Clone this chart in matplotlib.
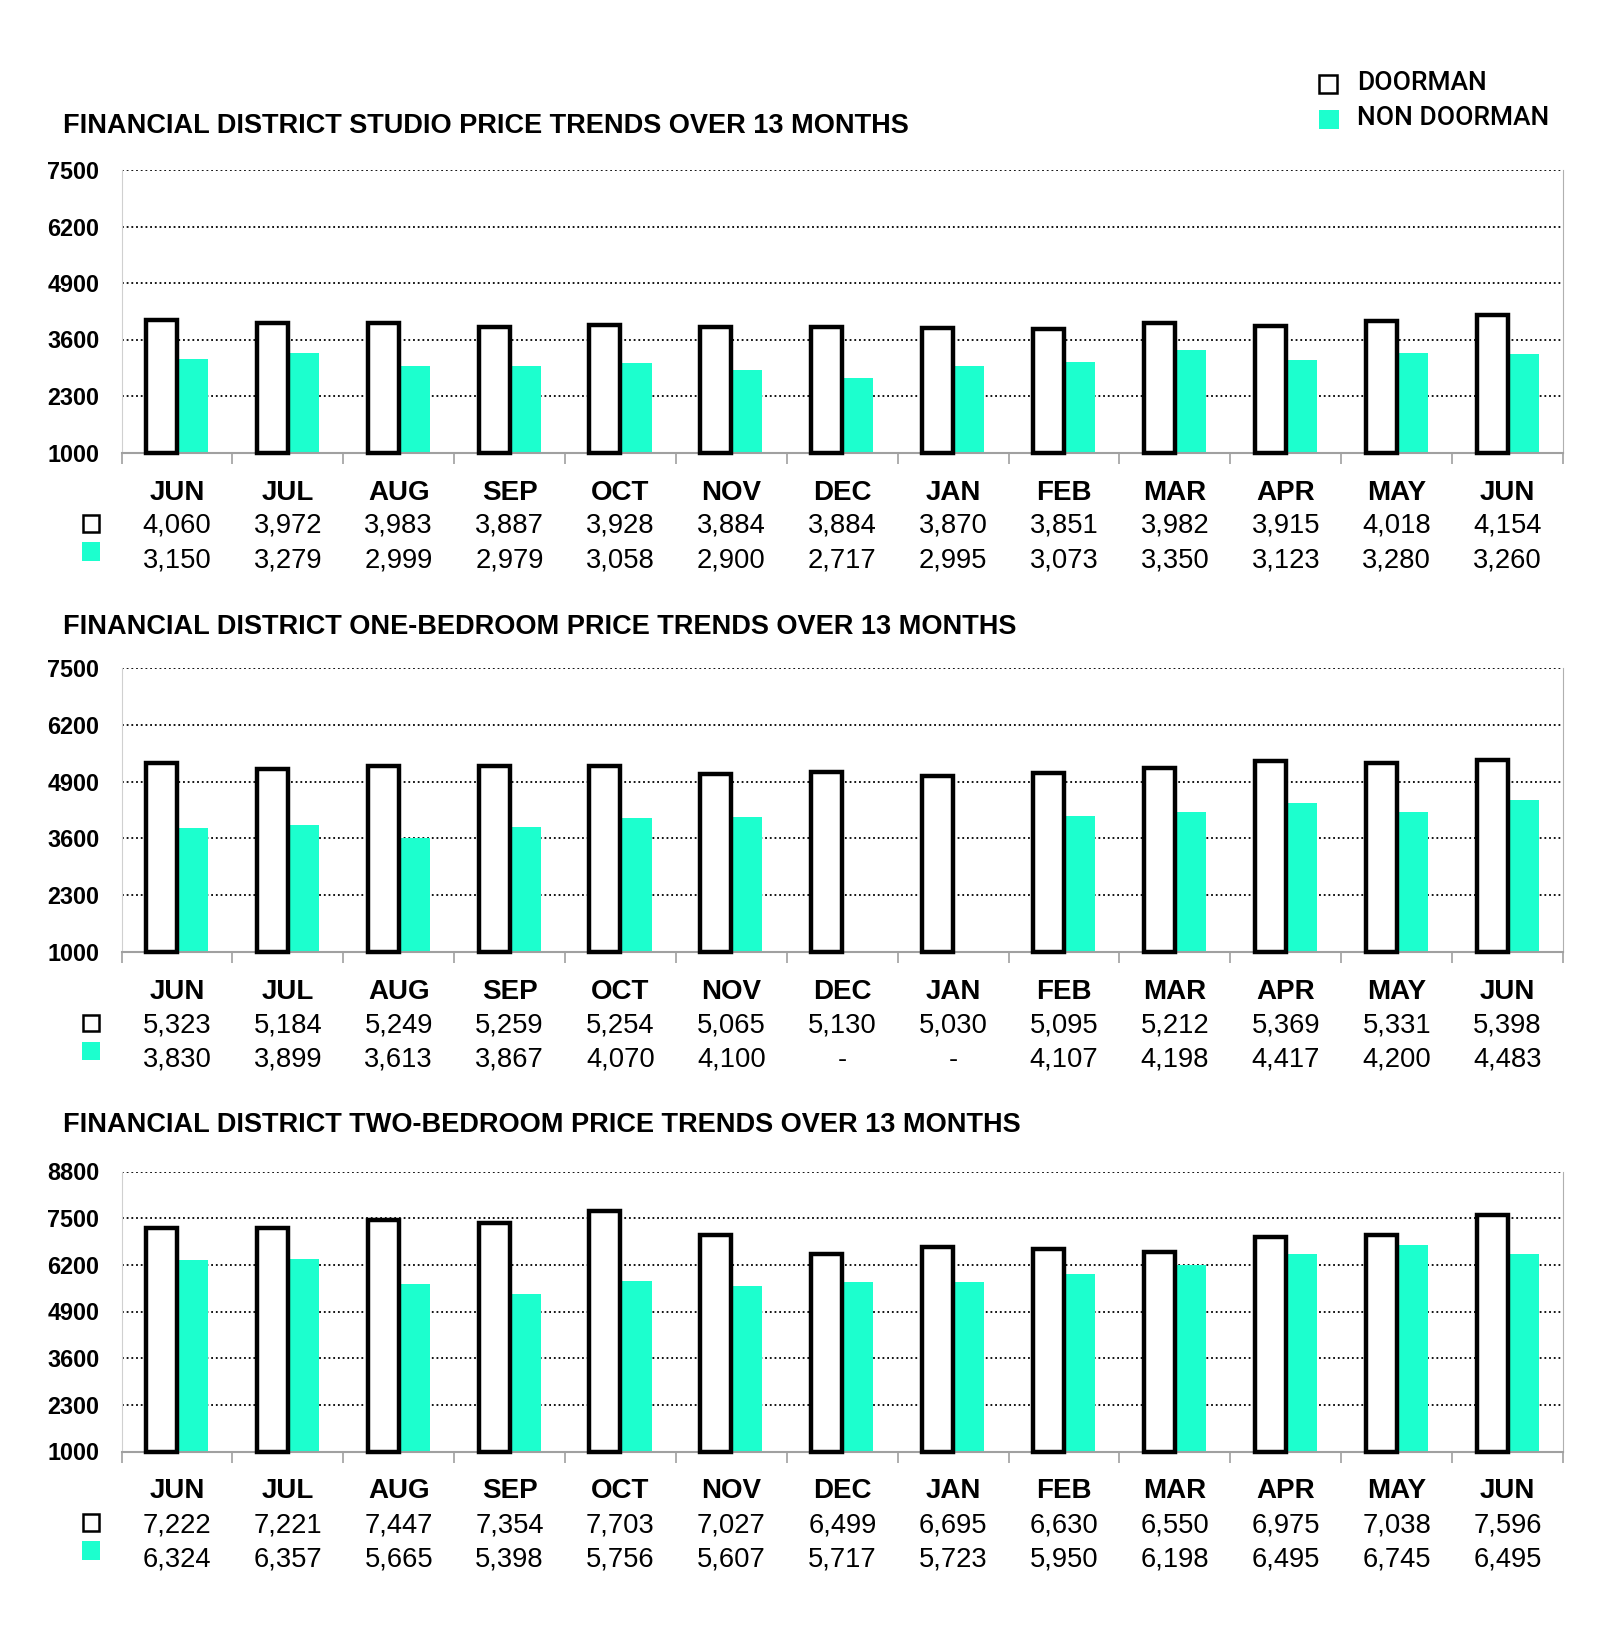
"""Financial District rental price trends: doorman vs non doorman, 13 months."""

import matplotlib
matplotlib.use("Agg")
import matplotlib.pyplot as plt
import matplotlib.transforms as mtransforms
from matplotlib.patches import Rectangle

W, H = 1600, 1645
DPI = 100

TEAL = "#1CFFCE"
GRID_KW = dict(color="black", linestyle=(0, (1, 1.6)), linewidth=1.3)

months = ["JUN", "JUL", "AUG", "SEP", "OCT", "NOV", "DEC",
          "JAN", "FEB", "MAR", "APR", "MAY", "JUN"]

studio_doorman = [4060, 3972, 3983, 3887, 3928, 3884, 3884, 3870, 3851, 3982, 3915, 4018, 4154]
studio_non = [3150, 3279, 2999, 2979, 3058, 2900, 2717, 2995, 3073, 3350, 3123, 3280, 3260]

onebed_doorman = [5323, 5184, 5249, 5259, 5254, 5065, 5130, 5030, 5095, 5212, 5369, 5331, 5398]
onebed_non = [3830, 3899, 3613, 3867, 4070, 4100, None, None, 4107, 4198, 4417, 4200, 4483]

twobed_doorman = [7222, 7221, 7447, 7354, 7703, 7027, 6499, 6695, 6630, 6550, 6975, 7038, 7596]
twobed_non = [6324, 6357, 5665, 5398, 5756, 5607, 5717, 5723, 5950, 6198, 6495, 6745, 6495]

studio_ticks = [1000, 2300, 3600, 4900, 6200, 7500]
onebed_ticks = [1000, 2300, 3600, 4900, 6200, 7500]
twobed_ticks = [1000, 2300, 3600, 4900, 6200, 7500, 8800]

panels = [
    ("FINANCIAL DISTRICT STUDIO PRICE TRENDS OVER 13 MONTHS",
     studio_doorman, studio_non, studio_ticks, 170, 452.5, 126),
    ("FINANCIAL DISTRICT ONE-BEDROOM PRICE TRENDS OVER 13 MONTHS",
     onebed_doorman, onebed_non, onebed_ticks, 668, 952, 626.5),
    ("FINANCIAL DISTRICT TWO-BEDROOM PRICE TRENDS OVER 13 MONTHS",
     twobed_doorman, twobed_non, twobed_ticks, 1171.5, 1451.5, 1125.5),
]

AX_LEFT, AX_RIGHT = 121.5, 1563
BAR_W = 0.28
SANS = "Liberation Sans"


def fx(px):
    return px / W


def fy(py):
    return 1 - py / H


def fmt(v):
    return "-" if v is None else f"{v:,}"


def draw_panel(fig, title, doorman, non, ticks, top, bottom, title_y):
    ax = fig.add_axes([fx(AX_LEFT), fy(bottom), fx(AX_RIGHT - AX_LEFT), (bottom - top) / H])
    n = len(months)
    xs = list(range(n))

    non_x = [x + BAR_W / 2 for x, v in zip(xs, non) if v is not None]
    non_h = [v - ticks[0] for v in non if v is not None]
    ax.bar(non_x, non_h, width=BAR_W, bottom=ticks[0], color=TEAL,
           linewidth=0, zorder=2, clip_on=False)
    ax.bar([x - BAR_W / 2 for x in xs], [v - ticks[0] for v in doorman],
           width=BAR_W, bottom=ticks[0], facecolor="white", edgecolor="black",
           linewidth=3.2, zorder=3, clip_on=False)

    ax.set_xlim(-0.5, n - 0.5)
    ax.set_ylim(ticks[0], ticks[-1])
    ax.set_yticks(ticks)
    ax.set_yticklabels([str(t) for t in ticks], fontfamily=SANS,
                       fontweight="bold", fontsize=16.8)
    for t in ticks[1:]:
        ax.axhline(t, zorder=1, **GRID_KW)

    ax.set_xticks([x - 0.5 for x in range(n + 1)])
    ax.set_xticklabels([])
    ax.tick_params(axis="x", length=8, width=1.2, color="#A0A0A0", direction="out")
    ax.tick_params(axis="y", length=0, pad=16)

    ax.spines["top"].set_visible(False)
    ax.spines["bottom"].set_color("#A0A0A0")
    ax.spines["bottom"].set_linewidth(1.5)
    ax.spines["left"].set_color("#D0D0D0")
    ax.spines["right"].set_color("#B0B0B0")

    base = ax.get_xaxis_transform()

    def row(offset_px):
        return mtransforms.offset_copy(base, fig=fig, y=-offset_px * 72 / DPI, units="points")

    t_month, t_d, t_n = row(40), row(73.5), row(108)
    for x, m, d, v in zip(xs, months, doorman, non):
        ax.text(x, 0, m, transform=t_month, ha="center", va="center",
                fontfamily=SANS, fontweight="bold", fontsize=20)
        ax.text(x, 0, fmt(d), transform=t_d, ha="center", va="center",
                fontfamily=SANS, fontsize=19.7)
        ax.text(x, 0, fmt(v), transform=t_n, ha="center", va="center",
                fontfamily=SANS, fontsize=19.7)

    fig.patches.append(Rectangle((fx(82.5), fy(bottom + 79)), fx(16.5), 16.5 / H,
                                 transform=fig.transFigure, facecolor="white",
                                 edgecolor="black", linewidth=1.8))
    fig.patches.append(Rectangle((fx(81.5), fy(bottom + 108)), fx(18.5), 18.5 / H,
                                 transform=fig.transFigure, facecolor=TEAL,
                                 edgecolor="none"))

    fig.text(fx(62.7), fy(title_y), title, ha="left", va="center",
             fontfamily=SANS, fontweight="bold", fontsize=19.5)
    return ax


def main():
    fig = plt.figure(figsize=(W / DPI, H / DPI), dpi=DPI)
    fig.patch.set_facecolor("white")

    for title, d, n, ticks, top, bottom, ty in panels:
        draw_panel(fig, title, d, n, ticks, top, bottom, ty)

    # legend at top right
    fig.patches.append(Rectangle((fx(1319), fy(92.5)), fx(18), 18 / H,
                                 transform=fig.transFigure, facecolor="white",
                                 edgecolor="black", linewidth=1.8))
    fig.patches.append(Rectangle((fx(1319), fy(129)), fx(19.5), 19.5 / H,
                                 transform=fig.transFigure, facecolor=TEAL,
                                 edgecolor="none"))
    fig.text(fx(1357), fy(83.5), "DOORMAN", ha="left", va="center",
             fontfamily="Roboto", fontweight="medium", fontsize=19)
    fig.text(fx(1357), fy(118), "NON DOORMAN", ha="left", va="center",
             fontfamily="Roboto", fontweight="medium", fontsize=19)

    fig.savefig("out.png", dpi=DPI)


if __name__ == "__main__":
    main()
